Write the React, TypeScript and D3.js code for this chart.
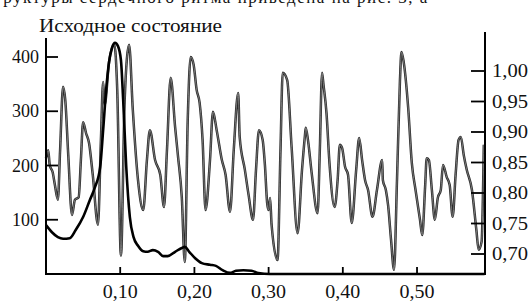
import React from "react";
import * as d3 from "d3";

// Tick labels
const xTicks = [0.1, 0.2, 0.3, 0.4, 0.5];
const xTickLabels = ["0,10", "0,20", "0,30", "0,40", "0,50"];
const leftTicks = [100, 200, 300, 400];
const leftTickLabels = ["100", "200", "300", "400"];
const rightTicks = [0.7, 0.75, 0.8, 0.85, 0.9, 0.95, 1.0];
const rightTickLabels = ["0,70", "0,75", "0,80", "0,85", "0,90", "0,95", "1,00"];

const title = "Исходное состояние";
const clippedLine = "структуры сердечного ритма приведена на рис. 3, а";

// Oscillating series (right axis)
const oscX = [0.000,0.003,0.005,0.009,0.012,0.016,0.019,0.023,0.026,0.030,0.035,0.039,0.044,0.047,0.050,0.054,0.058,0.063,0.070,0.074,0.077,0.079,0.085,0.092,0.096,0.101,0.106,0.112,0.117,0.124,0.131,0.136,0.140,0.147,0.154,0.159,0.163,0.168,0.174,0.178,0.183,0.187,0.191,0.195,0.199,0.203,0.207,0.211,0.215,0.221,0.225,0.230,0.237,0.242,0.248,0.253,0.259,0.261,0.268,0.273,0.279,0.283,0.287,0.292,0.295,0.298,0.300,0.302,0.304,0.312,0.316,0.319,0.325,0.331,0.339,0.345,0.349,0.350,0.353,0.358,0.366,0.369,0.372,0.374,0.378,0.382,0.389,0.393,0.396,0.399,0.403,0.407,0.412,0.418,0.422,0.426,0.430,0.434,0.440,0.446,0.453,0.454,0.458,0.461,0.465,0.469,0.473,0.477,0.479,0.482,0.488,0.493,0.498,0.504,0.507,0.511,0.513,0.516,0.520,0.524,0.528,0.532,0.535,0.540,0.544,0.548,0.552,0.556,0.559,0.563,0.567,0.574,0.580,0.583,0.587,0.590];
const oscY = [0.857,0.870,0.846,0.834,0.813,0.789,0.870,0.974,0.952,0.862,0.764,0.789,0.793,0.854,0.916,0.898,0.882,0.830,0.748,0.887,0.982,0.944,1.015,1.044,0.969,0.697,0.952,1.043,0.936,0.821,0.772,0.854,0.903,0.854,0.830,0.777,0.870,0.989,0.908,0.859,0.793,0.687,0.920,1.023,1.010,0.969,0.948,0.887,0.772,0.854,0.933,0.903,0.854,0.830,0.769,0.870,0.964,0.892,0.838,0.797,0.756,0.838,0.903,0.887,0.846,0.784,0.772,0.792,0.748,0.690,0.870,0.997,0.985,0.875,0.734,0.838,0.895,0.907,0.887,0.833,0.767,0.870,0.997,0.977,0.931,0.849,0.777,0.821,0.879,0.874,0.843,0.830,0.751,0.838,0.890,0.854,0.821,0.805,0.761,0.805,0.854,0.821,0.805,0.780,0.723,0.674,0.821,0.985,1.031,1.015,0.941,0.849,0.805,0.756,0.731,0.813,0.857,0.854,0.805,0.756,0.792,0.805,0.846,0.826,0.813,0.761,0.830,0.887,0.892,0.862,0.838,0.805,0.739,0.707,0.720,0.879];

// Smooth spectrum series (left axis)
const specX = [0.000,0.008,0.016,0.023,0.032,0.040,0.050,0.059,0.066,0.073,0.077,0.081,0.085,0.089,0.093,0.097,0.101,0.104,0.108,0.113,0.118,0.124,0.131,0.137,0.144,0.151,0.158,0.164,0.174,0.183,0.187,0.193,0.201,0.210,0.221,0.229,0.238,0.248,0.256,0.266,0.277,0.286,0.302,0.350,0.450,0.591];
const specY = [90,77,68,65,66,81,105,136,160,197,265,339,391,417,426,420,394,321,201,105,68,52,42,41,44,41,33,33,41,48,50,41,29,20,17,15,7,2,6,7,6,2,0,0,0,0];

const W = 532, H = 302;
const FONT = "Liberation Serif, DejaVu Serif, serif";

export default function App() {
  const x = d3.scaleLinear().domain([0, 0.5916]).range([46, 485]);
  const yL = d3.scaleLinear().domain([0, 400]).range([274, 57]);
  const yR = d3.scaleLinear().domain([0.7, 1.0]).range([254, 71]);

  const oscPts: [number, number][] = oscX.map((v, i) => [v, oscY[i]]);
  const specPts: [number, number][] = specX.map((v, i) => [v, specY[i]]);

  const oscLine = d3.line<[number, number]>().x(d => x(d[0])).y(d => yR(d[1])).curve(d3.curveMonotoneX);
  const specLine = d3.line<[number, number]>().x(d => x(d[0])).y(d => yL(d[1])).curve(d3.curveMonotoneX);

  const oscPath = oscLine(oscPts) || "";
  const specPath = specLine(specPts) || "";

  return (
    <svg width={W} height={H} style={{ position: "fixed", left: 0, top: 0, background: "#fff" }}>
      <rect x={0} y={0} width={W} height={H} fill="#fff" />
      <g fontFamily={FONT} fill="#111">
        {/* clipped text line at the very top */}
        <text x={-15} y={3} fontSize={17} letterSpacing={1.5}>{clippedLine}</text>
        <text x={39} y={32} fontSize={18} textLength={183} lengthAdjust="spacingAndGlyphs">{title}</text>
      </g>

      {/* oscillating series */}
      <path d={oscPath} fill="none" stroke="#2a2a2a" strokeWidth={2.5} strokeLinejoin="round" />
      <path d={oscPath} fill="none" stroke="#9a9a9a" strokeWidth={0.7} strokeLinejoin="round" />
      {/* spectrum */}
      <path d={specPath} fill="none" stroke="#000" strokeWidth={2.6} strokeLinejoin="round" />

      {/* axes */}
      <line x1={46} x2={46} y1={38} y2={275} stroke="#000" strokeWidth={2} />
      <line x1={45} x2={486} y1={274} y2={274} stroke="#000" strokeWidth={2} />
      <line x1={485} x2={485} y1={32} y2={275} stroke="#000" strokeWidth={2} />

      <g fontFamily={FONT} fill="#111" fontSize={18}>
        {leftTicks.map((t, i) => (
          <g key={"l" + i}>
            <line x1={46} x2={58} y1={yL(t)} y2={yL(t)} stroke="#000" strokeWidth={1.8} />
            <text x={39} y={yL(t) + 6} textAnchor="end">{leftTickLabels[i]}</text>
          </g>
        ))}
        {rightTicks.map((t, i) => (
          <g key={"r" + i}>
            <line x1={471} x2={485} y1={yR(t)} y2={yR(t)} stroke="#000" strokeWidth={1.8} />
            <text x={492} y={yR(t) + 6} textLength={36} lengthAdjust="spacingAndGlyphs">{rightTickLabels[i]}</text>
          </g>
        ))}
        {xTicks.map((t, i) => (
          <g key={"x" + i}>
            <line x1={x(t)} x2={x(t)} y1={274} y2={267} stroke="#000" strokeWidth={1.8} />
            <text x={x(t)} y={298} textAnchor="middle" textLength={35} lengthAdjust="spacingAndGlyphs">{xTickLabels[i]}</text>
          </g>
        ))}
      </g>
    </svg>
  );
}
